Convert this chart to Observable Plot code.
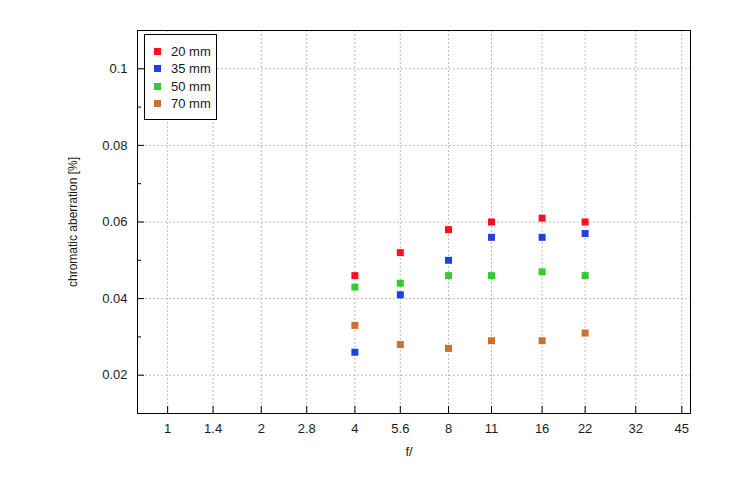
<!DOCTYPE html>
<html>
<head>
<meta charset="utf-8">
<script src="https://cdn.jsdelivr.net/npm/d3@7"></script>
<script src="https://cdn.jsdelivr.net/npm/@observablehq/plot@0.6"></script>
<style>
  body { margin: 0; background: #fff; font-family: "Liberation Sans", Arial, sans-serif; }
  #wrap { position: relative; width: 739px; height: 494px; }
  #legend { position: absolute; left: 144px; top: 34px; width: 71px; height: 84px; border: 1px solid #000; background: #fff; }
  .lrow { position: absolute; left: 0; height: 15px; font-size: 13px; color: #1a1a1a; line-height: 15px; white-space: nowrap; }
  .lsw { position: absolute; left: 9px; top: 4px; width: 7px; height: 7px; }
  .ltx { position: absolute; left: 26px; top: 0; }
  g[aria-label="x-tick-labels"] text, g[aria-label="y-tick-labels"] text { letter-spacing: 0.6px; }
</style>
</head>
<body>
<div id="wrap"></div>
<script>
// ---- data ----
const fStops = [4, 5.6, 8, 11, 16, 22];
const seriesNames = ["20 mm", "35 mm", "50 mm", "70 mm"];
const seriesColors = ["#ff1020", "#2040e0", "#30cc30", "#cc7030"];
const ca20 = [0.046, 0.052, 0.058, 0.060, 0.061, 0.060];
const ca35 = [0.026, 0.041, 0.050, 0.056, 0.056, 0.057];
const ca50 = [0.043, 0.044, 0.046, 0.046, 0.047, 0.046];
const ca70 = [0.033, 0.028, 0.027, 0.029, 0.029, 0.031];
const xTicks = [1, 1.4, 2, 2.8, 4, 5.6, 8, 11, 16, 22, 32, 45];
const xTickLabels = ["1", "1.4", "2", "2.8", "4", "5.6", "8", "11", "16", "22", "32", "45"];
const yTicks = [0.02, 0.04, 0.06, 0.08, 0.1];
const yTickLabels = ["0.02", "0.04", "0.06", "0.08", "0.1"];
const yMinorTicks = [0.03, 0.05, 0.07, 0.09];
const xLabel = "f/";
const yLabel = "chromatic aberration [%]";

const allSeries = [ca20, ca35, ca50, ca70];
const rows = [];
allSeries.forEach((vals, si) => {
  vals.forEach((v, i) => rows.push({ f: fStops[i], v, s: seriesNames[si] }));
});
const xTickRows = xTicks.map((t, i) => ({ t, label: xTickLabels[i] }));
const yTickRows = yTicks.map((t, i) => ({ t, label: yTickLabels[i] }));

const W = 739, H = 494, mL = 137, mR = 49, mT = 30, mB = 81;
const innerW = W - mL - mR, innerH = H - mT - mB;
const grid = { stroke: "#bcbcbc", strokeDasharray: "2,2", strokeWidth: 1 };
const txt = { fill: "#1a1a1a", fontSize: 13 };

const chart = Plot.plot({
  width: W, height: H,
  marginLeft: mL, marginRight: mR, marginTop: mT, marginBottom: mB,
  style: { fontFamily: '"Liberation Sans", Arial, sans-serif', fontSize: "13px", color: "#1a1a1a", background: "#fff" },
  x: { type: "log", domain: [0.8, 48], axis: null },
  y: { domain: [0.01, 0.11], axis: null },
  color: { domain: seriesNames, range: seriesColors },
  marks: [
    Plot.ruleX(xTicks, { x: d => d, ...grid }),
    Plot.ruleY(yTicks, { y: d => d, ...grid }),
    Plot.tickX(xTicks, { x: d => d, insetTop: innerH - 7, stroke: "#000" }),
    Plot.tickY(yTicks, { y: d => d, insetRight: innerW - 7, stroke: "#000" }),
    Plot.tickY(yMinorTicks, { y: d => d, insetRight: innerW - 4, stroke: "#000" }),
    Plot.text(xTickRows, { x: "t", text: "label", frameAnchor: "bottom", textAnchor: "middle", dy: 19, ariaLabel: "x-tick-labels", ...txt }),
    Plot.text(yTickRows, { y: "t", text: "label", frameAnchor: "left", textAnchor: "end", dx: -10, ariaLabel: "y-tick-labels", ...txt }),
    Plot.frame({ stroke: "#000", strokeWidth: 1 }),
    Plot.dot(rows, { x: "f", y: "v", fill: "s", symbol: "square", r: 3.95 }),
    Plot.text([yLabel], { text: d => d, frameAnchor: "left", textAnchor: "middle", rotate: -90, dx: -64, fill: "#1a1a1a", fontSize: 12 }),
    Plot.text([xLabel], { text: d => d, frameAnchor: "bottom", textAnchor: "middle", dy: 42, dx: -5, ...txt })
  ]
});
const wrap = document.getElementById("wrap");
wrap.appendChild(chart);

// legend inside the plot area
const legend = document.createElement("div");
legend.id = "legend";
seriesNames.forEach((name, i) => {
  const row = document.createElement("div");
  row.className = "lrow";
  row.style.top = (9 + i * 17.3) + "px";
  row.innerHTML = `<span class="lsw" style="background:${seriesColors[i]}"></span><span class="ltx">${name}</span>`;
  legend.appendChild(row);
});
wrap.appendChild(legend);
</script>
</body>
</html>
